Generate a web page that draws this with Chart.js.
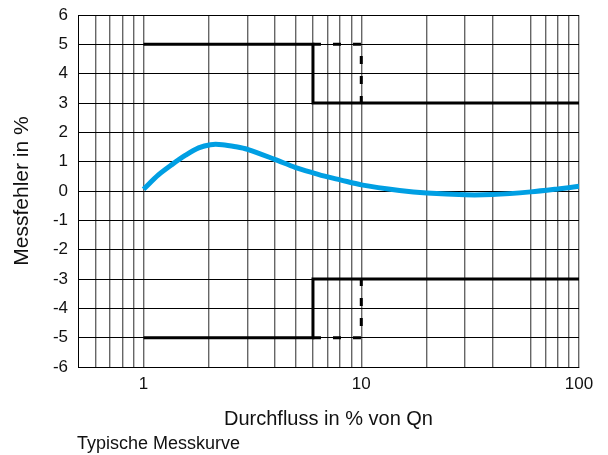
<!DOCTYPE html>
<html>
<head>
<meta charset="utf-8">
<script src="https://cdn.jsdelivr.net/npm/chart.js@4/dist/chart.umd.min.js"></script>
<style>
  html, body { margin: 0; padding: 0; background: #fff; }
  #wrap { width: 608px; height: 455px; position: relative; }
</style>
</head>
<body>
<div id="wrap"><canvas id="c" width="608" height="455"></canvas></div>
<script>
// Data
const curveX = [1, 1.17, 1.35, 1.56, 1.79, 2.03, 2.3, 2.65, 3, 4, 5, 6, 7, 8, 10, 15, 20, 30, 40, 60, 80, 100];
const curveY = [0.06, 0.55, 0.9, 1.22, 1.47, 1.58, 1.58, 1.51, 1.42, 1.08, 0.8, 0.62, 0.48, 0.38, 0.21, 0.02, -0.07, -0.13, -0.12, -0.03, 0.07, 0.16];

const upperLimitX = [1, 6, 6, 100];
const upperLimitY = [5, 5, 3, 3];
const upperDashX = [6, 10, 10];
const upperDashY = [5, 5, 3];
const lowerLimitX = [1, 6, 6, 100];
const lowerLimitY = [-5, -5, -3, -3];
const lowerDashX = [6, 10, 10];
const lowerDashY = [-5, -5, -3];

const xGridValues = [0.6, 0.7, 0.8, 0.9, 1, 2, 3, 4, 5, 6, 7, 8, 9, 10, 20, 30, 40, 60, 70, 80, 90, 100];
const xTickLabels = { 1: '1', 10: '10', 100: '100' };

const xAxisTitle = 'Durchfluss in % von Qn';
const yAxisTitle = 'Messfehler in %';
const captionText = 'Typische Messkurve';

const pts = (xs, ys) => xs.map((x, i) => ({ x: x, y: ys[i] }));

const FONT = "'Liberation Sans', Arial, sans-serif";

const captionPlugin = {
  id: 'caption',
  afterDraw(chart) {
    const ctx = chart.ctx;
    ctx.save();
    ctx.font = '18px ' + FONT;
    ctx.fillStyle = '#111';
    ctx.textBaseline = 'alphabetic';
    ctx.textAlign = 'left';
    ctx.fillText(captionText, 77, 449);
    ctx.restore();
  }
};

new Chart(document.getElementById('c'), {
  type: 'scatter',
  data: {
    datasets: [
      {
        data: pts(curveX, curveY),
        showLine: true,
        borderColor: '#009fe3',
        borderWidth: 5,
        pointRadius: 0,
        tension: 0.3,
        order: 2
      },
      {
        data: pts(upperLimitX, upperLimitY),
        showLine: true, borderColor: '#000', borderWidth: 3, pointRadius: 0, order: 1
      },
      {
        data: pts(upperDashX, upperDashY),
        showLine: true, borderColor: '#000', borderWidth: 3, pointRadius: 0, borderDash: [8, 12], order: 1
      },
      {
        data: pts(lowerLimitX, lowerLimitY),
        showLine: true, borderColor: '#000', borderWidth: 3, pointRadius: 0, order: 1
      },
      {
        data: pts(lowerDashX, lowerDashY),
        showLine: true, borderColor: '#000', borderWidth: 3, pointRadius: 0, borderDash: [8, 12], order: 1
      }
    ]
  },
  options: {
    responsive: false,
    animation: false,
    layout: { padding: { top: 15, right: 29, left: 0, bottom: 0 } },
    plugins: {
      legend: { display: false },
      tooltip: { enabled: false }
    },
    scales: {
      x: {
        type: 'logarithmic',
        min: 0.5,
        max: 100,
        afterBuildTicks(scale) {
          scale.ticks = xGridValues.map(v => ({ value: v, major: false }));
        },
        afterFit(scale) { scale.height = 88; },
        ticks: {
          autoSkip: false,
          maxRotation: 0,
          padding: 7,
          color: '#111',
          font: { family: FONT, size: 17 },
          callback: (v) => xTickLabels[v] || ''
        },
        grid: {
          color: '#666',
          lineWidth: 1.4,
          drawTicks: false
        },
        border: { display: true, color: '#000', width: 1 },
        title: {
          display: true,
          text: xAxisTitle,
          color: '#111',
          font: { family: FONT, size: 20 },
          padding: { top: 0, bottom: 24 }
        }
      },
      y: {
        min: -6,
        max: 6,
        afterFit(scale) { scale.width = 78; scale.paddingTop = 0; scale.paddingBottom = 0; },
        ticks: {
          stepSize: 1,
          padding: 10,
          color: '#111',
          font: { family: FONT, size: 17, lineHeight: 0.8 }
        },
        grid: {
          color: '#000',
          lineWidth: 1,
          drawTicks: false
        },
        border: { display: true, color: '#000', width: 1 },
        title: {
          display: true,
          text: yAxisTitle,
          color: '#111',
          font: { family: FONT, size: 21 },
          padding: { top: 10, bottom: 0 }
        }
      }
    }
  },
  plugins: [captionPlugin]
});
</script>
</body>
</html>
